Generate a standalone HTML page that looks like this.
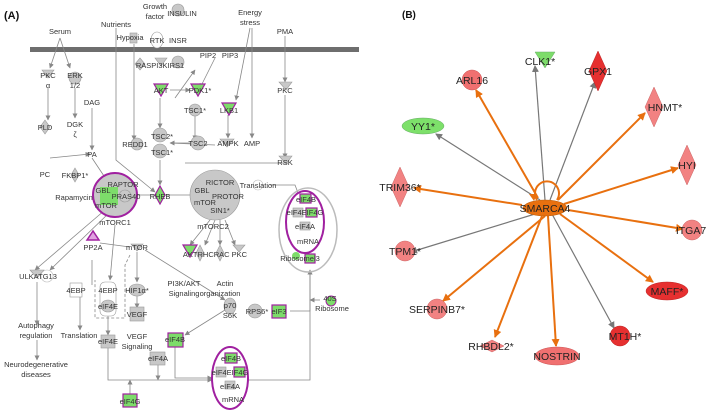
<!DOCTYPE html>
<html><head><meta charset="utf-8"><style>
html,body{margin:0;padding:0;background:#fff;}
svg{display:block;font-family:"Liberation Sans",sans-serif;}
.a text{font-size:7.5px;fill:#333;}
.b text{font-size:10.5px;fill:#222;}
.g{fill:#c8c8c8;stroke:#999;stroke-width:.6}
.gr{fill:#7ddc6a;stroke:#a020a0;stroke-width:1.2}
.l{stroke:#888;stroke-width:.8;fill:none}
.o{stroke:#e8700f;stroke-width:2;fill:none}
.k{stroke:#777;stroke-width:1.2;fill:none}
</style></head><body>
<svg width="709" height="416" viewBox="0 0 709 416">
<defs>
<marker id="ao" markerWidth="8" markerHeight="8" refX="7" refY="4" orient="auto" markerUnits="userSpaceOnUse"><path d="M0,0 L8,4 L0,8z" fill="#e8700f"/></marker>
<marker id="ak" markerWidth="7" markerHeight="7" refX="6" refY="3.5" orient="auto" markerUnits="userSpaceOnUse"><path d="M0,0 L7,3.5 L0,7z" fill="#777"/></marker>
<marker id="aa" markerWidth="5" markerHeight="5" refX="4.5" refY="2.5" orient="auto" markerUnits="userSpaceOnUse"><path d="M0,0 L5,2.5 L0,5z" fill="#888"/></marker>
</defs>
<!-- Panel A -->
<g class="a">
<text x="4" y="19" style="font-size:11px;font-weight:bold;fill:#111">(A)</text>
<rect x="30" y="47" width="329" height="5" fill="#6e6e6e"/>
<!-- lines -->
<g class="l" marker-end="url(#aa)">
<path d="M60,38 L50,68"/><path d="M60,38 L70,68"/>
<path d="M48,88 L48,120"/><path d="M75,88 L75,118"/>
<path d="M116,28 L116,160 L155,192"/>
<path d="M134,44 L134,140"/>
<path d="M160,98 L160,128"/>
<path d="M250,28 L236,100"/><path d="M252,28 L252,138"/>
<path d="M285,36 L285,82"/><path d="M285,95 L285,158"/>
<path d="M228,115 L228,138"/>
<path d="M195,116 L195,140"/>
<path d="M190,143 L170,143"/>
<path d="M92,108 L92,150"/>
<path d="M50,158 L90,154"/>
<path d="M92,158 L108,182"/>
<path d="M160,160 L160,185"/>
<path d="M135,195 L200,195"/>
<path d="M105,210 L35,270"/><path d="M110,212 L50,270"/>
<path d="M115,225 L110,280"/>
<path d="M137,252 L137,282"/><path d="M137,296 L137,308"/>
<path d="M37,282 L37,325"/><path d="M37,340 L37,360"/>
<path d="M80,296 L80,330"/>
<path d="M108,312 L108,335"/>
<path d="M145,250 L225,300"/>
<path d="M225,310 L185,335"/>
<path d="M290,311 L310,311 L310,270"/>
<path d="M320,300 L310,300"/>
<path d="M210,220 L190,245"/><path d="M215,220 L205,245"/><path d="M220,220 L220,245"/><path d="M225,220 L235,245"/>
<path d="M175,98 L195,70"/><path d="M215,58 L200,88"/>
<path d="M170,90 L190,90"/>
<path d="M108,340 L108,380 L212,380"/><path d="M158,365 L158,380"/><path d="M175,346 L175,378 L212,378"/>
<path d="M248,380 L310,380 L310,270"/>
<path d="M130,395 L130,380"/>
<path d="M270,185 L295,185 L300,198"/>
</g>
<path class="l" d="M100,243 L130,247"/>
<path class="l" d="M92,260 L92,285"/>
<path class="l" d="M215,145 L170,143 M185,163 L285,163"/>
<path class="l" stroke-dasharray="3,2" d="M130,255 L125,265 L125,318 L95,318 L95,280"/>
<!-- nodes -->
<ellipse class="g" cx="178" cy="10" rx="6" ry="6"/>
<ellipse cx="157" cy="40" rx="6" ry="8" fill="#fff" stroke="#999" stroke-width=".6"/>
<ellipse class="g" cx="178" cy="62" rx="6" ry="6"/>
<rect class="g" x="130" y="33" width="7" height="10" fill="#fff"/>
<path class="g" d="M140,58 l5,6 l-5,6 l-5,-6z"/>
<path class="g" d="M155,58 h12 l-6,8z"/>
<path class="g" d="M42,70 h12 l-6,8z"/>
<ellipse class="g" cx="75" cy="78" rx="6" ry="6"/>
<path class="gr" d="M154,84 h14 l-7,12z"/><path class="gr" d="M191,84 h14 l-7,12z"/>
<path class="g" d="M279,82 h13 l-6,8z"/>
<ellipse class="g" cx="195" cy="110" rx="6" ry="6"/>
<path class="gr" d="M222,103 h14 l-7,12z"/>
<path class="g" d="M45,120 l5,7 l-5,7 l-5,-7z"/>
<ellipse class="g" cx="160" cy="135" rx="7" ry="7"/><ellipse class="g" cx="160" cy="151" rx="7" ry="7"/>
<ellipse class="g" cx="137" cy="144" rx="6" ry="6"/>
<ellipse class="g" cx="198" cy="143" rx="7" ry="7"/>
<path class="g" d="M220,139 h14 l-7,8z"/>
<path class="g" d="M279,156 h13 l-6,8z"/>
<path class="g" d="M75,168 l4,7 l-4,7 l-4,-7z"/>
<circle cx="115" cy="195" r="22" fill="#c8c8c8" stroke="#a020a0" stroke-width="2"/>
<rect x="100" y="187" width="18" height="18" fill="#7ddc6a"/>
<ellipse class="g" cx="125" cy="196" rx="6" ry="6"/>
<path class="gr" d="M160,186 l5,9 l-5,9 l-5,-9z"/>
<circle class="g" cx="215" cy="195" r="25"/>
<circle cx="258" cy="185" r="5" fill="#fff" stroke="#bbb" stroke-width=".6"/>
<ellipse cx="308" cy="230" rx="29" ry="42" fill="none" stroke="#bbb" stroke-width="1.5"/>
<ellipse cx="305" cy="222" rx="19" ry="31" fill="#fff" stroke="#a020a0" stroke-width="2"/>
<rect class="gr" x="300" y="194" width="11" height="9"/><rect class="g" x="293" y="208" width="10" height="9"/><rect class="gr" x="306" y="208" width="11" height="9"/><rect class="g" x="300" y="222" width="10" height="8"/>
<circle cx="296" cy="256" r="4" fill="#7ddc6a"/><rect class="gr" x="305" y="254" width="10" height="9"/>
<path d="M87,240 l6,-9 l6,9z" fill="#e0a0e0" stroke="#a020a0" stroke-width="1.5"/>
<path class="g" d="M131,244 h12 l-6,7z"/>
<path class="gr" d="M183,245 h14 l-7,12z"/>
<path class="g" d="M200,245 l4,8 l-4,8 l-4,-8z"/><path class="g" d="M220,245 l4,8 l-4,8 l-4,-8z"/>
<path class="g" d="M233,245 h12 l-6,7z"/>
<path class="g" d="M30,270 h14 l-7,8z"/><circle cx="47" cy="276" r="6" fill="#fff" stroke="#bbb" stroke-width=".6"/>
<rect x="70" y="283" width="12" height="14" fill="#fff" stroke="#999" stroke-width=".6"/>
<rect x="100" y="282" width="16" height="34" rx="5" fill="#fff" stroke="#999" stroke-width=".6"/>
<ellipse class="g" cx="108" cy="306" rx="7" ry="6"/>
<ellipse class="g" cx="137" cy="290" rx="8" ry="6"/>
<rect class="g" x="130" y="307" width="14" height="14"/>
<rect class="g" x="101" y="335" width="14" height="13"/>
<rect class="g" x="150" y="352" width="15" height="13"/>
<ellipse class="g" cx="230" cy="306" rx="6" ry="8"/>
<circle class="g" cx="255" cy="311" r="7"/>
<rect class="gr" x="272" y="305" width="14" height="13"/>
<circle cx="331" cy="301" r="5" fill="#7ddc6a" stroke="#a020a0"/>
<rect class="gr" x="168" y="333" width="15" height="14"/>
<ellipse cx="230" cy="378" rx="18" ry="31" fill="#fff" stroke="#a020a0" stroke-width="2"/>
<rect class="gr" x="225" y="353" width="12" height="10"/><rect class="g" x="216" y="367" width="10" height="10"/><rect class="gr" x="234" y="367" width="11" height="10"/><rect class="g" x="225" y="381" width="10" height="8"/>
<rect class="gr" x="123" y="394" width="14" height="13"/>
<text x="60" y="34" text-anchor="middle">Serum</text>
<text x="116" y="27" text-anchor="middle">Nutrients</text>
<text x="155" y="9" text-anchor="middle">Growth</text><text x="155" y="19" text-anchor="middle">factor</text>
<text x="182" y="16" text-anchor="middle">INSULIN</text>
<text x="130" y="40" text-anchor="middle">Hypoxia</text><text x="157" y="43" text-anchor="middle">RTK</text><text x="178" y="43" text-anchor="middle">INSR</text>
<text x="250" y="15" text-anchor="middle">Energy</text><text x="250" y="25" text-anchor="middle">stress</text>
<text x="285" y="34" text-anchor="middle">PMA</text>
<text x="160" y="68" text-anchor="middle">RASPI3KIRS1</text>
<text x="208" y="58" text-anchor="middle">PIP2</text><text x="230" y="58" text-anchor="middle">PIP3</text>
<text x="48" y="78" text-anchor="middle">PKC</text><text x="48" y="88" text-anchor="middle">α</text>
<text x="75" y="78" text-anchor="middle">ERK</text><text x="75" y="88" text-anchor="middle">1/2</text>
<text x="161" y="93" text-anchor="middle">AKT</text><text x="200" y="93" text-anchor="middle">PDK1*</text>
<text x="285" y="93" text-anchor="middle">PKC</text>
<text x="92" y="105" text-anchor="middle">DAG</text>
<text x="195" y="113" text-anchor="middle">TSC1*</text><text x="229" y="113" text-anchor="middle">LKB1</text>
<text x="45" y="130" text-anchor="middle">PLD</text>
<text x="75" y="127" text-anchor="middle">DGK</text><text x="75" y="137" text-anchor="middle">ζ</text>
<text x="162" y="139" text-anchor="middle">TSC2*</text><text x="162" y="155" text-anchor="middle">TSC1*</text>
<text x="135" y="147" text-anchor="middle">REDD1</text>
<text x="198" y="146" text-anchor="middle">TSC2</text><text x="228" y="146" text-anchor="middle">AMPK</text><text x="252" y="146" text-anchor="middle">AMP</text>
<text x="92" y="157" text-anchor="middle">PA</text>
<text x="285" y="165" text-anchor="middle">RSK</text>
<text x="45" y="177" text-anchor="middle">PC</text><text x="75" y="178" text-anchor="middle">FKBP1*</text>
<text x="74" y="200" text-anchor="middle">Rapamycin</text>
<text x="123" y="187" text-anchor="middle">RAPTOR</text><text x="103" y="193" text-anchor="middle">GBL</text><text x="126" y="199" text-anchor="middle">PRAS40</text><text x="106" y="208" text-anchor="middle">mTOR</text>
<text x="160" y="199" text-anchor="middle">RHEB</text>
<text x="220" y="185" text-anchor="middle">RICTOR</text><text x="202" y="193" text-anchor="middle">GBL</text><text x="228" y="199" text-anchor="middle">PROTOR</text><text x="205" y="205" text-anchor="middle">mTOR</text><text x="220" y="213" text-anchor="middle">SIN1*</text>
<text x="258" y="188" text-anchor="middle">Translation</text>
<text x="306" y="202" text-anchor="middle">eIF4B</text><text x="305" y="215" text-anchor="middle">eIF4EIF4G</text><text x="305" y="229" text-anchor="middle">eIF4A</text><text x="308" y="244" text-anchor="middle">mRNA</text><text x="300" y="261" text-anchor="middle">Ribosomel3</text>
<text x="115" y="225" text-anchor="middle">mTORC1</text><text x="213" y="229" text-anchor="middle">mTORC2</text>
<text x="93" y="250" text-anchor="middle">PP2A</text><text x="137" y="250" text-anchor="middle">mTOR</text>
<text x="215" y="257" text-anchor="middle">AKTRHCRAC PKC</text>
<text x="38" y="279" text-anchor="middle">ULKATG13</text>
<text x="76" y="293" text-anchor="middle">4EBP</text><text x="108" y="293" text-anchor="middle">4EBP</text><text x="108" y="309" text-anchor="middle">eIF4E</text>
<text x="137" y="293" text-anchor="middle">HIF1α*</text><text x="137" y="317" text-anchor="middle">VEGF</text>
<text x="184" y="286" text-anchor="middle">PI3K/AKT</text><text x="184" y="296" text-anchor="middle">Signaling</text>
<text x="225" y="286" text-anchor="middle">Actin</text><text x="220" y="296" text-anchor="middle">organization</text>
<text x="230" y="308" text-anchor="middle">p70</text><text x="230" y="318" text-anchor="middle">S6K</text>
<text x="257" y="314" text-anchor="middle">RPS6*</text><text x="279" y="314" text-anchor="middle">eIF3</text>
<text x="330" y="301" text-anchor="middle">40S</text><text x="332" y="311" text-anchor="middle">Ribosome</text>
<text x="36" y="328" text-anchor="middle">Autophagy</text><text x="36" y="338" text-anchor="middle">regulation</text>
<text x="79" y="338" text-anchor="middle">Translation</text>
<text x="108" y="344" text-anchor="middle">eIF4E</text>
<text x="137" y="339" text-anchor="middle">VEGF</text><text x="137" y="349" text-anchor="middle">Signaling</text>
<text x="175" y="342" text-anchor="middle">eIF4B</text>
<text x="158" y="361" text-anchor="middle">eIF4A</text>
<text x="36" y="367" text-anchor="middle">Neurodegenerative</text><text x="36" y="377" text-anchor="middle">diseases</text>
<text x="231" y="361" text-anchor="middle">eIF4B</text><text x="230" y="375" text-anchor="middle">eIF4EIF4G</text><text x="230" y="389" text-anchor="middle">eIF4A</text><text x="233" y="402" text-anchor="middle">mRNA</text>
<text x="130" y="404" text-anchor="middle">eIF4G</text>
</g>
<!-- Panel B -->
<g class="b">
<text x="402" y="18" style="font-size:10px;font-weight:bold;fill:#111">(B)</text>
<g class="k" marker-end="url(#ak)">
<line x1="540" y1="200" x2="436" y2="134"/>
<line x1="545" y1="200" x2="535" y2="66"/>
<line x1="550" y1="200" x2="595" y2="82"/>
<line x1="535" y1="214" x2="411" y2="252"/>
<line x1="552" y1="214" x2="614" y2="328"/>
</g>
<g class="o" marker-end="url(#ao)">
<line x1="538" y1="198" x2="476" y2="90"/>
<line x1="558" y1="200" x2="645" y2="113"/>
<line x1="564" y1="204" x2="678" y2="168"/>
<line x1="522" y1="205" x2="414" y2="188"/>
<line x1="568" y1="210" x2="683" y2="229"/>
<line x1="560" y1="214" x2="653" y2="282"/>
<line x1="545" y1="216" x2="443" y2="301"/>
<line x1="542" y1="216" x2="495" y2="337"/>
<line x1="548" y1="216" x2="556" y2="346"/>
</g>
<path class="o" d="M537,200 A12,12 0 1 1 557,200" />
<path d="M529,194 l8,0 l-3,7z" fill="#e8700f"/>
<path d="M535,52 h20 l-10,16z" fill="#7ddc6a" stroke="#6a6" stroke-width=".5"/>
<path d="M598,51 l9,20 l-9,20 l-9,-20z" fill="#e63030" stroke="#b22" stroke-width=".5"/>
<circle cx="472" cy="80" r="10" fill="#f07070" stroke="#c55" stroke-width=".5"/>
<path d="M654,87 l9,20 l-9,20 l-9,-20z" fill="#f28282" stroke="#c66" stroke-width=".5"/>
<ellipse cx="423" cy="126" rx="21" ry="8" fill="#7de06a" stroke="#6a6" stroke-width=".5"/>
<path d="M687,145 l9,20 l-9,20 l-9,-20z" fill="#f28282" stroke="#c66" stroke-width=".5"/>
<path d="M400,167 l9,20 l-9,20 l-9,-20z" fill="#f28282" stroke="#c66" stroke-width=".5"/>
<circle cx="692" cy="230" r="10" fill="#f28282" stroke="#c66" stroke-width=".5"/>
<circle cx="405" cy="251" r="10" fill="#f28282" stroke="#c66" stroke-width=".5"/>
<ellipse cx="667" cy="291" rx="21" ry="9" fill="#e63030" stroke="#b22" stroke-width=".5"/>
<circle cx="437" cy="309" r="10" fill="#f28282" stroke="#c66" stroke-width=".5"/>
<circle cx="620" cy="336" r="10" fill="#e63030" stroke="#b22" stroke-width=".5"/>
<path d="M480,346 l12,-6 l12,6 l-12,6z" fill="#f28282" stroke="#c66" stroke-width=".5"/>
<ellipse cx="557" cy="356" rx="22" ry="9" fill="#f07070" stroke="#c55" stroke-width=".5"/>
<ellipse cx="545" cy="208" rx="22" ry="8" fill="#e8700f" stroke="#b55a0a" stroke-width=".5"/>
<text x="545" y="212" text-anchor="middle">SMARCA4</text>
<text x="540" y="65" text-anchor="middle">CLK1*</text>
<text x="598" y="75" text-anchor="middle">GPX1</text>
<text x="472" y="84" text-anchor="middle">ARL16</text>
<text x="665" y="111" text-anchor="middle">HNMT*</text>
<text x="423" y="130" text-anchor="middle">YY1*</text>
<text x="687" y="169" text-anchor="middle">HYI</text>
<text x="400" y="191" text-anchor="middle">TRIM36*</text>
<text x="691" y="234" text-anchor="middle">ITGA7</text>
<text x="405" y="255" text-anchor="middle">TPM1*</text>
<text x="667" y="295" text-anchor="middle">MAFF*</text>
<text x="437" y="313" text-anchor="middle">SERPINB7*</text>
<text x="625" y="340" text-anchor="middle">MT1H*</text>
<text x="491" y="350" text-anchor="middle">RHBDL2*</text>
<text x="557" y="360" text-anchor="middle">NOSTRIN</text>
</g>
</svg>
</body></html>
